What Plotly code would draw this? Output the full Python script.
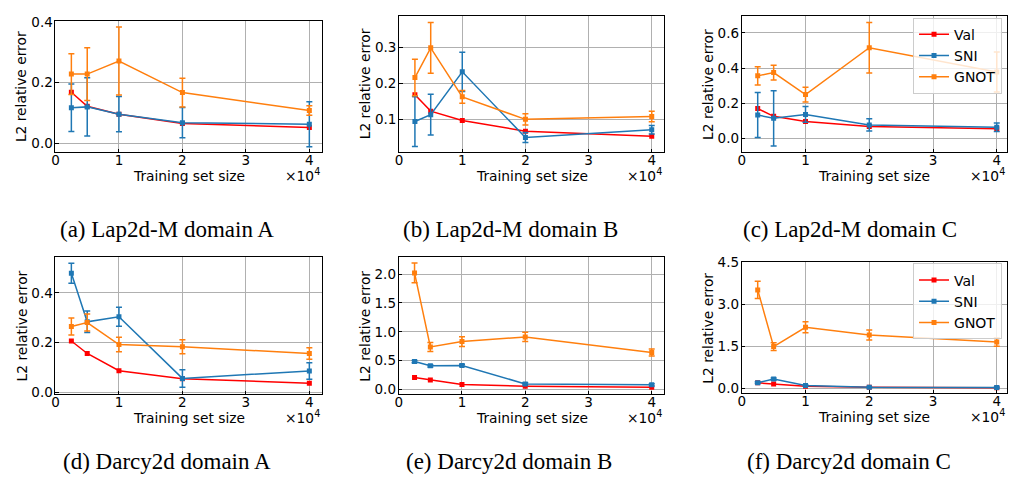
import plotly.graph_objects as go

W, H = 1009, 487

# ---------------- data ----------------
sizes = [2500, 5000, 10000, 20000, 40000]
x_tick_vals = [0, 10000, 20000, 30000, 40000]
x_tick_text = ["0", "1", "2", "3", "4"]
series_names = ["Val", "SNI", "GNOT"]
captions = ["(a) Lap2d-M domain A", "(b) Lap2d-M domain B", "(c) Lap2d-M domain C",
            "(d) Darcy2d domain A", "(e) Darcy2d domain B", "(f) Darcy2d domain C"]

val_a = [0.168, 0.122, 0.096, 0.065, 0.052]
sni_a = [0.117, 0.120, 0.096, 0.068, 0.063]
sni_a_err = [0.078, 0.096, 0.058, 0.050, 0.074]
gnot_a = [0.228, 0.228, 0.271, 0.167, 0.108]
gnot_a_err = [0.067, 0.087, 0.112, 0.047, 0.016]

val_b = [0.168, 0.122, 0.096, 0.066, 0.052]
sni_b = [0.093, 0.112, 0.232, 0.048, 0.070]
sni_b_err = [0.070, 0.057, 0.055, 0.014, 0.012]
gnot_b = [0.216, 0.299, 0.162, 0.099, 0.107]
gnot_b_err = [0.051, 0.071, 0.018, 0.016, 0.015]

val_c = [0.170, 0.126, 0.097, 0.068, 0.055]
sni_c = [0.133, 0.115, 0.137, 0.077, 0.064]
sni_c_err = [0.128, 0.157, 0.045, 0.035, 0.024]
gnot_c = [0.356, 0.375, 0.250, 0.516, 0.378]
gnot_c_err = [0.052, 0.042, 0.042, 0.144, 0.114]

val_d = [0.207, 0.157, 0.088, 0.056, 0.038]
sni_d = [0.479, 0.284, 0.304, 0.057, 0.087]
sni_d_err = [0.040, 0.043, 0.038, 0.035, 0.033]
gnot_d = [0.265, 0.281, 0.193, 0.184, 0.157]
gnot_d_err = [0.034, 0.034, 0.029, 0.028, 0.023]

val_e = [0.208, 0.163, 0.084, 0.056, 0.039]
sni_e = [0.483, 0.410, 0.416, 0.096, 0.079]
sni_e_err = [0.020, 0.020, 0.020, 0.020, 0.020]
gnot_e = [2.022, 0.736, 0.831, 0.910, 0.640]
gnot_e_err = [0.170, 0.080, 0.085, 0.080, 0.060]

val_f = [0.200, 0.160, 0.080, 0.040, 0.025]
sni_f = [0.205, 0.336, 0.104, 0.040, 0.035]
sni_f_err = [0.030, 0.040, 0.020, 0.015, 0.015]
gnot_f = [3.527, 1.497, 2.190, 1.914, 1.659]
gnot_f_err = [0.310, 0.140, 0.200, 0.180, 0.150]

panels = [
    (val_a, sni_a, sni_a_err, gnot_a, gnot_a_err),
    (val_b, sni_b, sni_b_err, gnot_b, gnot_b_err),
    (val_c, sni_c, sni_c_err, gnot_c, gnot_c_err),
    (val_d, sni_d, sni_d_err, gnot_d, gnot_d_err),
    (val_e, sni_e, sni_e_err, gnot_e, gnot_e_err),
    (val_f, sni_f, sni_f_err, gnot_f, gnot_f_err),
]

# ---------------- layout / styling ----------------
# axes boxes in pixels: left, right, top, bottom
boxes = [
    (51.7, 319.3, 13.3, 148.3),
    (396.7, 663.0, 8.3, 148.3),
    (740.7, 1006.7, 8.3, 148.3),
    (51.7, 319.3, 256.7, 397.7),
    (396.3, 663.0, 256.7, 397.7),
    (740.7, 1006.7, 261.7, 396.7),
]
x_ranges = [[0, 42000], [0, 42000], [0, 41560], [0, 42000], [0, 42000], [0, 41560]]
y_ranges = [[-0.0288, 0.4032], [0.0076, 0.388], [-0.077, 0.696],
            [-0.0066, 0.5426], [-0.084, 2.292], [-0.174, 4.52]]
y_dticks = [0.2, 0.1, 0.2, 0.2, 0.5, 1.5]
y_tick0 = [0, 0, 0, 0, 0, 0]
caption_x = [164, 509, 849, 164, 507, 848]
caption_y = [228, 228, 228, 467, 467, 467]

colors = {"Val": "#ff0000", "SNI": "#1f77b4", "GNOT": "#ff7f0e"}
tick_font = dict(family="DejaVu Sans", size=13.5, color="black")
label_font = dict(family="DejaVu Sans", size=13.8, color="black")


def px_x(p):
    return p / W


def px_y(p):
    return 1 - p / H


fig = go.Figure()
annotations = []
layout = {}

for i, (val, sni, sni_err, gnot, gnot_err) in enumerate(panels):
    n = "" if i == 0 else str(i + 1)
    xa, ya = "x" + n, "y" + n
    legend_name = None
    if i == 2:
        legend_name = "legend"
    elif i == 5:
        legend_name = "legend2"
    show = legend_name is not None

    common = dict(xaxis=xa, yaxis=ya, mode="lines+markers", showlegend=show)
    if show:
        common["legend"] = legend_name

    fig.add_trace(go.Scatter(x=sizes, y=val, name="Val",
                             line=dict(color=colors["Val"], width=1.5),
                             marker=dict(symbol="square", size=5, color=colors["Val"]),
                             **common))
    fig.add_trace(go.Scatter(x=sizes, y=sni, name="SNI",
                             line=dict(color=colors["SNI"], width=1.5),
                             marker=dict(symbol="square", size=5, color=colors["SNI"]),
                             error_y=dict(type="data", array=sni_err, color=colors["SNI"],
                                          thickness=1.5, width=3),
                             **common))
    fig.add_trace(go.Scatter(x=sizes, y=gnot, name="GNOT",
                             line=dict(color=colors["GNOT"], width=1.5),
                             marker=dict(symbol="square", size=5, color=colors["GNOT"]),
                             error_y=dict(type="data", array=gnot_err, color=colors["GNOT"],
                                          thickness=1.5, width=3),
                             **common))

    l, r, t, b = boxes[i]
    axis_common = dict(showline=True, linecolor="black", linewidth=1, mirror=True,
                       showgrid=True, gridcolor="#b0b0b0", gridwidth=1,
                       zeroline=False, ticks="inside", ticklen=3.5, tickwidth=0.8,
                       tickcolor="black", tickfont=tick_font)
    layout["xaxis" + n] = dict(domain=[px_x(l), px_x(r)], anchor=ya, range=x_ranges[i],
                               tickmode="array", tickvals=x_tick_vals, ticktext=x_tick_text,
                               ticklabelstandoff=-4, **axis_common)
    layout["yaxis" + n] = dict(domain=[px_y(b), px_y(t)], anchor=xa, range=y_ranges[i],
                               tickmode="linear", tick0=y_tick0[i], dtick=y_dticks[i],
                               tickformat=".1f", ticklabelstandoff=-1, **axis_common)

    # x label
    annotations.append(dict(text="Training set size", x=px_x((l + r) / 2), y=px_y(b + 24.5),
                            xref="paper", yref="paper", showarrow=False,
                            xanchor="center", yanchor="middle", font=label_font))
    # offset text
    annotations.append(dict(text="×10<sup>4</sup>", x=px_x(r), y=px_y(b + 23.5),
                            xref="paper", yref="paper", showarrow=False,
                            xanchor="right", yanchor="middle", font=label_font))
    # y label
    annotations.append(dict(text="L2 relative error", x=px_x(l - 34), y=px_y((t + b) / 2),
                            xref="paper", yref="paper", showarrow=False, textangle=-90,
                            xanchor="center", yanchor="middle", font=label_font))
    # caption
    annotations.append(dict(text=captions[i], x=px_x(caption_x[i]), y=px_y(caption_y[i]),
                            xref="paper", yref="paper", showarrow=False,
                            xanchor="center", yanchor="middle",
                            font=dict(family="Liberation Serif", size=23, color="black")))

legend_style = dict(bgcolor="rgba(255,255,255,0.8)", bordercolor="#cccccc", borderwidth=1,
                    font=dict(family="DejaVu Sans", size=14, color="black"),
                    xanchor="right", yanchor="top", xref="paper", yref="paper")

fig.update_layout(
    width=W, height=H,
    margin=dict(l=0, r=0, t=0, b=0),
    paper_bgcolor="white", plot_bgcolor="white",
    annotations=annotations,
    legend=dict(x=px_x(1002), y=px_y(10), **legend_style),
    legend2=dict(x=px_x(1002), y=px_y(263), **legend_style),
    **layout,
)

fig.write_html("out.html")
